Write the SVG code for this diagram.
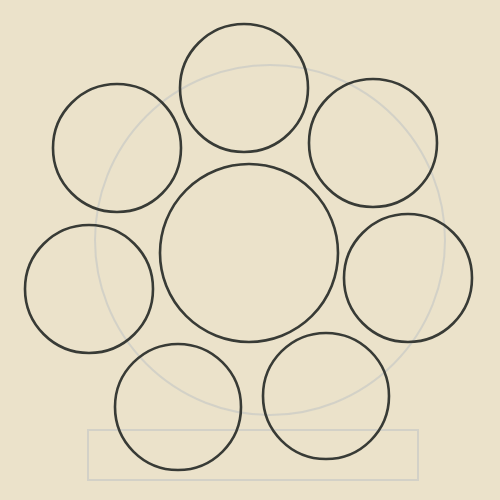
<svg xmlns="http://www.w3.org/2000/svg" width="500" height="500" viewBox="0 0 500 500">
<style>
.c{fill:none;stroke:#383b36;stroke-width:2.6}
.g{fill:none;stroke:#c3c6c4;stroke-width:2;opacity:0.6}
</style>
<rect width="500" height="500" fill="#ebe2ca"/>
<g id="ghost">
<circle class="g" cx="270" cy="240" r="175"/>
<rect class="g" x="88" y="430" width="330" height="50"/>
</g>
<g id="center"><circle class="c" cx="249" cy="253" r="89"/></g>
<g id="top"><circle class="c" cx="244" cy="88" r="64"/></g>
<g id="top-right"><circle class="c" cx="373" cy="143" r="64"/></g>
<g id="top-left"><circle class="c" cx="117" cy="148" r="64"/></g>
<g id="left"><circle class="c" cx="89" cy="289" r="64"/></g>
<g id="right"><circle class="c" cx="408" cy="278" r="64"/></g>
<g id="bottom-left"><circle class="c" cx="178" cy="407" r="63"/></g>
<g id="bottom-right"><circle class="c" cx="326" cy="396" r="63"/></g>
</svg>
